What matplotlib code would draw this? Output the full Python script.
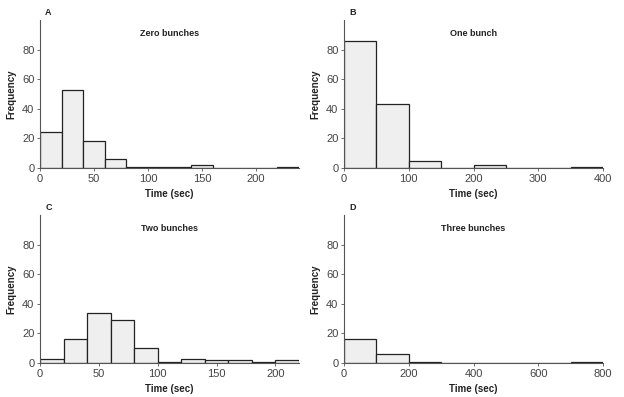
import matplotlib
matplotlib.use("Agg")
import matplotlib.pyplot as plt
from matplotlib import font_manager

names = {f.name for f in font_manager.fontManager.ttflist}
fam = ['Liberation Sans Narrow', 'Liberation Sans', 'DejaVu Sans'] if 'Liberation Sans Narrow' in names else ['Liberation Sans', 'DejaVu Sans']
plt.rcParams['font.family'] = fam

# Data
titles = ["Zero bunches", "One bunch", "Two bunches", "Three bunches"]
letters = ["A", "B", "C", "D"]
bin_width = [20, 50, 20, 100]
counts_a = [24, 53, 18, 6, 1, 1, 1, 2, 0, 0, 0, 1]
counts_b = [86, 43, 5, 0, 2, 0, 0, 1]
counts_c = [3, 16, 34, 29, 10, 1, 3, 2, 2, 1, 2]
counts_d = [16, 6, 1, 0, 0, 0, 0, 1]
xlims = [240, 400, 220, 800]
xticks = [[0, 50, 100, 150, 200], [0, 100, 200, 300, 400],
          [0, 50, 100, 150, 200], [0, 200, 400, 600, 800]]
yticks = [0, 20, 40, 60, 80]
all_counts = [counts_a, counts_b, counts_c, counts_d]

fig = plt.figure(figsize=(6.24, 3.97), dpi=100)
W, H = 624, 397
boxes = [(40, 299, 20, 168), (344, 603, 20, 168), (40, 299, 215, 363), (344, 603, 215, 363)]

for i in range(4):
    l, r, t, b = boxes[i]
    ax = fig.add_axes([l / W, 1 - b / H, (r - l) / W, (b - t) / H])
    counts = all_counts[i]
    w = bin_width[i]
    lefts = [k * w for k in range(len(counts))]
    ax.bar(lefts, counts, width=w, align='edge', color='#efefef',
           edgecolor='#222222', linewidth=0.9)
    ax.set_xlim(0, xlims[i])
    ax.set_ylim(0, 100)
    ax.set_xticks(xticks[i])
    ax.set_yticks(yticks)
    for s in ['top', 'right']:
        ax.spines[s].set_visible(False)
    for s in ['left', 'bottom']:
        ax.spines[s].set_color('#555555')
        ax.spines[s].set_linewidth(0.8)
    ax.tick_params(axis='both', length=2, width=0.6, color='#555555',
                   labelsize=8, labelcolor='#444444', pad=2)
    ax.set_xlabel("Time (sec)", fontsize=7, fontweight='bold', labelpad=4, color='#222222')
    ax.set_ylabel("Frequency", fontsize=7, fontweight='bold', labelpad=4, color='#222222')
    ax.text(0.5, 0.91, titles[i], transform=ax.transAxes, ha='center', va='center',
            fontsize=6.5, fontweight='bold', color='#222222')
    ax.text(0.02, 1.02, letters[i], transform=ax.transAxes, ha='left', va='bottom',
            fontsize=6.5, fontweight='bold', color='#222222')

fig.savefig("out.png", dpi=100)
